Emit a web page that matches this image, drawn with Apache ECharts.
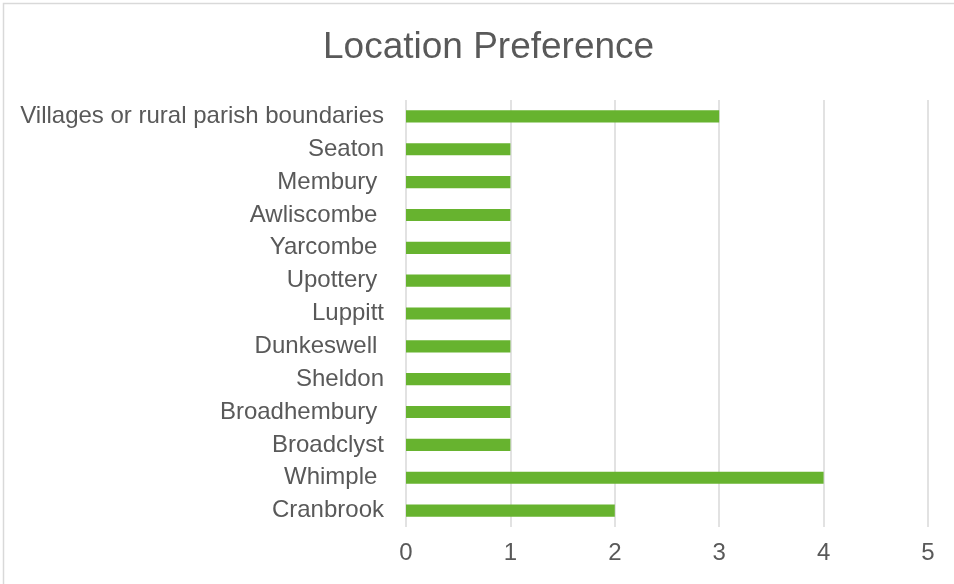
<!DOCTYPE html>
<html>
<head>
<meta charset="utf-8">
<script src="https://cdn.jsdelivr.net/npm/echarts@6/dist/echarts.min.js"></script>
<style>
html,body{margin:0;padding:0;background:#fff;}
#c{width:954px;height:584px;}
</style>
</head>
<body>
<div id="c"></div>
<script>
const categories = ["Villages or rural parish boundaries","Seaton","Membury ","Awliscombe ","Yarcombe ","Upottery ","Luppitt","Dunkeswell ","Sheldon","Broadhembury ","Broadclyst","Whimple ","Cranbrook"];
const values = [3,1,1,1,1,1,1,1,1,1,1,4,2];
const xTicks = [0,1,2,3,4,5];

const chart = echarts.init(document.getElementById('c'), null, {renderer:'canvas'});
chart.setOption({
  backgroundColor:'#ffffff',
  animation:false,
  title:{
    text:'Location Preference',
    left:318, top:24,
    textStyle:{fontFamily:'Liberation Sans, Arial, sans-serif', fontSize:37, fontWeight:'normal', color:'#595959'}
  },
  graphic:[{type:'rect', shape:{x:3.5,y:3.5,width:1000,height:1000}, style:{fill:'none', stroke:'#d9d9d9', lineWidth:1.5}, silent:true}],
  grid:{left:406, right:26, top:100, bottom:57, containLabel:false},
  xAxis:{
    type:'value', min:xTicks[0], max:xTicks[xTicks.length-1], interval:1,
    axisLine:{show:false}, axisTick:{show:false},
    splitLine:{show:true, lineStyle:{color:'#d9d9d9', width:1.5}},
    axisLabel:{margin:14, fontFamily:'Liberation Sans, Arial, sans-serif', fontSize:24, color:'#595959'}
  },
  yAxis:{
    type:'category', data:categories, inverse:true,
    axisLine:{show:false}, axisTick:{show:false},
    axisLabel:{margin:22, padding:[2,0,0,0], fontFamily:'Liberation Sans, Arial, sans-serif', fontSize:24, color:'#595959'}
  },
  series:[{
    type:'bar', data:values, barWidth:'37%',
    itemStyle:{color:'#67b32f'}
  }]
});
</script>
</body>
</html>
